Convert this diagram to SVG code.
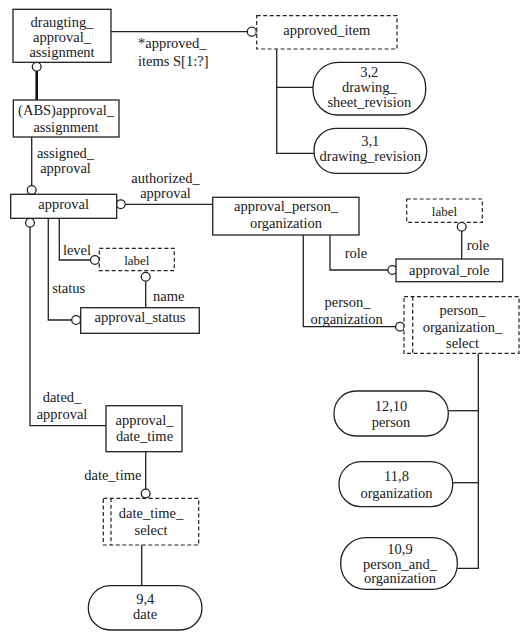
<svg xmlns="http://www.w3.org/2000/svg" width="523" height="637" viewBox="0 0 523 637">
<style>
text{font-family:'Liberation Serif','Times New Roman',Times,serif;font-size:14.5px;fill:#1a1a1a;text-anchor:middle}
text.s{font-size:13px}
.box{fill:#fff;stroke:#222;stroke-width:1.3}
.dash{fill:#fff;stroke:#222;stroke-width:1.2;stroke-dasharray:4,2.5}
.ln{fill:none;stroke:#222;stroke-width:1.3}
.thick{fill:none;stroke:#111;stroke-width:2.6}
.c{fill:#fff;stroke:#222;stroke-width:1.3}
</style>
<rect width="523" height="637" fill="#fff"/>
<g id="connectors">
  <line class="thick" x1="36.7" y1="71" x2="36.7" y2="100"/>
  <circle class="c" cx="36.7" cy="66.7" r="4.4"/>
  <line class="ln" x1="111" y1="31.7" x2="247.3" y2="31.7"/>
  <circle class="c" cx="251.8" cy="31.7" r="4.5"/>
  <polyline class="ln" points="276.7,49 276.7,153.3 314,153.3"/>
  <line class="ln" x1="276.7" y1="87.3" x2="313" y2="87.3"/>
  <line class="ln" x1="31.7" y1="137" x2="31.7" y2="185.6"/>
  <circle class="c" cx="31.7" cy="190" r="4.4"/>
  <line class="ln" x1="125.2" y1="204.3" x2="212.7" y2="204.3"/>
  <circle class="c" cx="120.8" cy="204.3" r="4.4"/>
  <polyline class="ln" points="59.3,218.3 59.3,260 90.5,260"/>
  <circle class="c" cx="94.9" cy="260" r="4.4"/>
  <polyline class="ln" points="48.3,218.3 48.3,320 71.6,320"/>
  <circle class="c" cx="76.1" cy="320" r="4.4"/>
  <line class="ln" x1="145.7" y1="281.1" x2="145.7" y2="307.7"/>
  <circle class="c" cx="145.7" cy="276.7" r="4.4"/>
  <polyline class="ln" points="30,227.1 30,425.7 106,425.7"/>
  <circle class="c" cx="30" cy="222.7" r="4.4"/>
  <line class="ln" x1="461.7" y1="231.1" x2="461.7" y2="259"/>
  <circle class="c" cx="461.7" cy="226.7" r="4.4"/>
  <polyline class="ln" points="330,235 330,270 387.9,270"/>
  <circle class="c" cx="392.3" cy="270" r="4.4"/>
  <polyline class="ln" points="303.3,235 303.3,326.7 395.6,326.7"/>
  <circle class="c" cx="400" cy="326.7" r="4.4"/>
  <polyline class="ln" points="478.3,353.3 478.3,568.3 457.3,568.3"/>
  <line class="ln" x1="448.3" y1="410.7" x2="478.3" y2="410.7"/>
  <line class="ln" x1="452.7" y1="482.7" x2="478.3" y2="482.7"/>
  <line class="ln" x1="145.7" y1="451.7" x2="145.7" y2="488.9"/>
  <circle class="c" cx="145.7" cy="493.6" r="4.4"/>
  <line class="ln" x1="141.7" y1="545" x2="141.7" y2="585.7"/>
  <text x="138" y="48" style="text-anchor:start">*approved_</text>
  <text x="138" y="66" style="text-anchor:start">items S[1:?]</text>
  <text x="65.5" y="158">assigned_</text>
  <text x="65.5" y="173">approval</text>
  <text x="165.5" y="183">authorized_</text>
  <text x="165.5" y="197.5">approval</text>
  <text x="77" y="254.5">level</text>
  <text x="68.7" y="293">status</text>
  <text x="168.8" y="300.5">name</text>
  <text x="478" y="249.5">role</text>
  <text x="356" y="258">role</text>
  <text x="347.5" y="307">person_</text>
  <text x="346.7" y="323.5">organization</text>
  <text x="62" y="402">dated_</text>
  <text x="62" y="418.5">approval</text>
  <text x="112.8" y="480">date_time</text>
</g>
<g id="draugting_approval_assignment">
  <rect class="box" x="13" y="9.3" width="98" height="53"/>
  <text x="62" y="27">draugting_</text>
  <text x="62" y="42">approval_</text>
  <text x="62" y="57">assignment</text>
</g>
<g id="abs_approval_assignment">
  <rect class="box" x="13.3" y="100" width="105.7" height="37"/>
  <text x="66" y="115">(ABS)approval_</text>
  <text x="66" y="131.5">assignment</text>
</g>
<g id="approved_item">
  <rect class="dash" x="256.7" y="15.7" width="140.3" height="33.3"/>
  <text x="326.8" y="35">approved_item</text>
</g>
<g id="drawing_sheet_revision">
  <rect class="box" x="313" y="62.3" width="112.7" height="52.7" rx="25" ry="25"/>
  <text x="369.3" y="77">3,2</text>
  <text x="369.3" y="92">drawing_</text>
  <text x="369.3" y="107">sheet_revision</text>
</g>
<g id="drawing_revision">
  <rect class="box" x="314" y="128.3" width="112.7" height="45" rx="22" ry="22"/>
  <text x="370.3" y="146">3,1</text>
  <text x="370.3" y="161">drawing_revision</text>
</g>
<g id="approval">
  <rect class="box" x="10.7" y="194.3" width="106" height="24"/>
  <text x="63.7" y="209">approval</text>
</g>
<g id="approval_person_organization">
  <rect class="box" x="212.7" y="197.3" width="146.3" height="37.7"/>
  <text x="286" y="211">approval_person_</text>
  <text x="286" y="227.5">organization</text>
</g>
<g id="label_level">
  <rect class="dash" x="99.3" y="248.3" width="75" height="22.4"/>
  <text class="s" x="136.8" y="265">label</text>
</g>
<g id="approval_status">
  <rect class="box" x="80.7" y="307.7" width="118.6" height="25.6"/>
  <text x="140" y="322">approval_status</text>
</g>
<g id="label_role">
  <rect class="dash" x="406.7" y="199" width="75.6" height="23.3"/>
  <text class="s" x="444.5" y="216">label</text>
</g>
<g id="approval_role">
  <rect class="box" x="396" y="259" width="106.7" height="22.7"/>
  <text x="449.3" y="275">approval_role</text>
</g>
<g id="person_organization_select">
  <rect class="dash" x="404" y="296.7" width="115" height="56.6"/>
  <line class="dash" x1="412.7" y1="296.7" x2="412.7" y2="353.3"/>
  <text x="462.5" y="315">person_</text>
  <text x="462.5" y="331.5">organization_</text>
  <text x="462.5" y="348">select</text>
</g>
<g id="person">
  <rect class="box" x="334" y="391" width="114.3" height="45" rx="22" ry="22"/>
  <text x="391" y="410.5">12,10</text>
  <text x="391" y="427">person</text>
</g>
<g id="organization">
  <rect class="box" x="339" y="461.7" width="113.7" height="45" rx="22" ry="22"/>
  <text x="396.5" y="481">11,8</text>
  <text x="396.5" y="498">organization</text>
</g>
<g id="person_and_organization">
  <rect class="box" x="340.7" y="537.7" width="116.6" height="51.6" rx="25" ry="25"/>
  <text x="400" y="554">10,9</text>
  <text x="400" y="568.5">person_and_</text>
  <text x="400" y="583">organization</text>
</g>
<g id="approval_date_time">
  <rect class="box" x="106" y="405.7" width="76" height="46"/>
  <text x="144.5" y="424.5">approval_</text>
  <text x="144.5" y="440.5">date_time</text>
</g>
<g id="date_time_select">
  <rect class="dash" x="103.3" y="498.3" width="95.4" height="46.7"/>
  <line class="dash" x1="111" y1="498.3" x2="111" y2="545"/>
  <text x="151" y="518">date_time_</text>
  <text x="151" y="534.5">select</text>
</g>
<g id="date">
  <rect class="box" x="88.3" y="585.7" width="113.7" height="44.3" rx="22" ry="22"/>
  <text x="145.2" y="604">9,4</text>
  <text x="145.2" y="619">date</text>
</g>
</svg>
